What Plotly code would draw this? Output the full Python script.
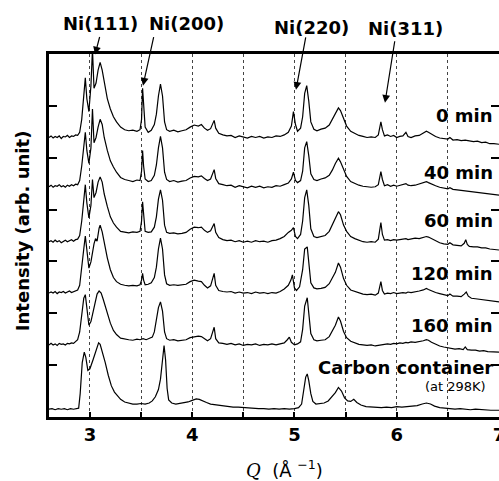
import plotly.graph_objects as go

# Q (1/Angstrom), intensity above each curve's own baseline (arb. unit)
min0 = [(2.60,0.00),(2.62,0.03),(2.64,-0.01),(2.66,0.02),(2.68,0.00),(2.70,0.03),(2.72,-0.02),(2.74,0.02),
        (2.76,0.01),(2.78,0.04),(2.80,0.00),(2.82,0.03),(2.84,0.02),(2.86,0.05),(2.88,0.04),(2.90,0.10),
        (2.92,0.35),(2.94,0.80),(2.955,1.15),(2.97,0.75),(2.99,0.50),(3.01,1.00),(3.025,1.70),(3.04,0.95),
        (3.06,1.05),(3.08,1.30),(3.10,1.45),(3.12,1.30),(3.14,1.05),(3.17,0.75),(3.20,0.55),(3.23,0.40),
        (3.26,0.30),(3.30,0.20),(3.34,0.15),(3.38,0.13),(3.42,0.14),(3.46,0.12),(3.49,0.15),(3.505,0.35),
        (3.515,0.95),(3.525,0.60),(3.54,0.20),(3.57,0.10),(3.60,0.14),(3.63,0.25),(3.65,0.45),(3.67,0.80),
        (3.69,1.03),(3.71,0.80),(3.73,0.30),(3.75,0.15),(3.78,0.12),(3.82,0.14),(3.86,0.11),(3.90,0.13),
        (3.94,0.15),(3.98,0.20),(4.02,0.24),(4.06,0.22),(4.09,0.25),(4.12,0.18),(4.15,0.14),(4.18,0.17),
        (4.20,0.28),(4.215,0.33),(4.23,0.18),(4.26,0.08),(4.30,0.05),(4.34,0.03),(4.38,0.04),(4.42,0.00),
        (4.46,0.03),(4.50,0.01),(4.54,-0.01),(4.58,0.02),(4.62,0.00),(4.66,0.02),(4.70,-0.01),(4.74,0.01),
        (4.78,0.00),(4.82,0.03),(4.86,0.02),(4.90,0.05),(4.94,0.10),(4.97,0.22),(4.99,0.50),(5.01,0.25),
        (5.03,0.12),(5.06,0.18),(5.08,0.40),(5.10,0.85),(5.12,1.00),(5.14,0.70),(5.16,0.30),(5.19,0.16),
        (5.22,0.13),(5.26,0.16),(5.30,0.18),(5.34,0.24),(5.37,0.35),(5.40,0.48),(5.43,0.57),(5.45,0.52),
        (5.48,0.35),(5.51,0.22),(5.55,0.12),(5.59,0.08),(5.63,0.04),(5.67,0.02),(5.71,0.00),(5.75,0.01),
        (5.79,0.00),(5.82,0.05),(5.845,0.30),(5.86,0.15),(5.88,0.03),(5.91,0.05),(5.94,0.02),(5.97,0.04),
        (6.00,0.00),(6.03,0.02),(6.06,0.03),(6.09,0.10),(6.11,0.02),(6.14,0.00),(6.18,0.03),(6.22,0.04),
        (6.26,0.08),(6.29,0.12),(6.31,0.10),(6.34,0.06),(6.38,0.02),(6.42,-0.01),(6.46,-0.02),(6.50,-0.03),
        (6.52,0.00),(6.55,-0.05),(6.59,-0.04),(6.63,-0.06),(6.67,-0.05),(6.71,-0.07),(6.75,-0.08),(6.79,-0.07),
        (6.83,-0.10),(6.87,-0.09),(6.91,-0.12),(6.95,-0.12),(7.00,-0.13)]

min40 = [(2.60,0.00),(2.62,0.03),(2.64,-0.01),(2.66,0.02),(2.68,0.01),(2.70,0.04),(2.72,0.00),(2.74,0.02),
         (2.76,-0.01),(2.78,0.03),(2.80,0.01),(2.82,0.04),(2.84,0.02),(2.86,0.05),(2.88,0.04),(2.90,0.12),
         (2.92,0.40),(2.94,0.80),(2.955,1.05),(2.97,0.70),(2.99,0.45),(3.01,0.75),(3.025,1.50),(3.04,0.85),
         (3.06,0.95),(3.08,1.15),(3.10,1.30),(3.12,1.20),(3.14,0.95),(3.17,0.70),(3.20,0.50),(3.23,0.38),
         (3.26,0.28),(3.30,0.18),(3.34,0.14),(3.38,0.12),(3.42,0.10),(3.46,0.13),(3.49,0.12),(3.505,0.30),
         (3.515,0.70),(3.525,0.40),(3.54,0.15),(3.57,0.10),(3.60,0.12),(3.63,0.22),(3.65,0.42),(3.67,0.75),
         (3.69,0.97),(3.71,0.75),(3.73,0.28),(3.75,0.14),(3.78,0.10),(3.82,0.12),(3.86,0.09),(3.90,0.11),
         (3.94,0.12),(3.98,0.17),(4.02,0.20),(4.06,0.19),(4.09,0.21),(4.12,0.16),(4.15,0.12),(4.18,0.15),
         (4.20,0.25),(4.215,0.33),(4.23,0.16),(4.26,0.06),(4.30,0.04),(4.34,0.02),(4.38,0.03),(4.42,-0.01),
         (4.46,0.02),(4.50,0.00),(4.54,-0.02),(4.58,0.01),(4.62,-0.01),(4.66,0.01),(4.70,-0.02),(4.74,0.00),
         (4.78,-0.01),(4.82,0.02),(4.86,0.01),(4.90,0.04),(4.94,0.07),(4.97,0.15),(4.99,0.28),(5.01,0.12),
         (5.03,0.08),(5.06,0.12),(5.08,0.30),(5.10,0.75),(5.12,0.87),(5.14,0.60),(5.16,0.25),(5.19,0.14),
         (5.22,0.12),(5.26,0.15),(5.30,0.17),(5.34,0.22),(5.37,0.32),(5.40,0.45),(5.43,0.55),(5.45,0.48),
         (5.48,0.32),(5.51,0.20),(5.55,0.10),(5.59,0.06),(5.63,0.03),(5.67,0.01),(5.71,0.00),(5.75,-0.01),
         (5.79,0.00),(5.82,0.04),(5.845,0.29),(5.86,0.14),(5.88,0.02),(5.91,0.04),(5.94,0.01),(5.97,0.03),
         (6.00,0.01),(6.03,0.03),(6.06,0.04),(6.09,0.06),(6.11,0.03),(6.14,0.02),(6.18,0.03),(6.22,0.05),
         (6.26,0.07),(6.29,0.10),(6.31,0.08),(6.34,0.05),(6.38,0.02),(6.42,-0.01),(6.46,-0.03),(6.50,-0.04),
         (6.52,-0.02),(6.55,-0.05),(6.59,-0.06),(6.63,-0.07),(6.67,-0.07),(6.71,-0.09),(6.75,-0.09),(6.79,-0.10),
         (6.83,-0.12),(6.87,-0.12),(6.91,-0.14),(6.95,-0.15),(7.00,-0.16)]

min60 = [(2.60,0.00),(2.62,0.02),(2.64,-0.01),(2.66,0.03),(2.68,0.00),(2.70,0.02),(2.72,-0.02),(2.74,0.01),
         (2.76,0.03),(2.78,0.00),(2.80,0.02),(2.82,0.04),(2.84,0.01),(2.86,0.04),(2.88,0.05),(2.90,0.12),
         (2.92,0.40),(2.94,0.85),(2.955,1.10),(2.97,0.75),(2.99,0.46),(3.01,0.70),(3.025,1.20),(3.04,0.85),
         (3.06,0.95),(3.08,1.15),(3.10,1.25),(3.12,1.15),(3.14,0.92),(3.17,0.68),(3.20,0.48),(3.23,0.36),
         (3.26,0.28),(3.30,0.20),(3.34,0.18),(3.38,0.17),(3.42,0.19),(3.46,0.18),(3.49,0.20),(3.505,0.40),
         (3.515,0.77),(3.525,0.45),(3.54,0.20),(3.57,0.18),(3.60,0.19),(3.63,0.28),(3.65,0.48),(3.67,0.82),
         (3.69,1.00),(3.71,0.80),(3.73,0.32),(3.75,0.18),(3.78,0.16),(3.82,0.17),(3.86,0.15),(3.90,0.16),
         (3.94,0.18),(3.98,0.24),(4.02,0.28),(4.06,0.27),(4.09,0.28),(4.12,0.22),(4.15,0.18),(4.18,0.21),
         (4.20,0.30),(4.215,0.35),(4.23,0.18),(4.26,0.08),(4.30,0.04),(4.34,0.02),(4.38,0.03),(4.42,0.00),
         (4.46,0.02),(4.50,-0.01),(4.54,0.01),(4.58,-0.01),(4.62,0.02),(4.66,0.00),(4.70,0.01),(4.74,-0.01),
         (4.78,0.02),(4.82,0.03),(4.86,0.06),(4.90,0.10),(4.94,0.18),(4.97,0.22),(4.99,0.27),(5.01,0.10),
         (5.03,0.06),(5.06,0.14),(5.08,0.40),(5.10,0.85),(5.12,1.00),(5.14,0.70),(5.16,0.25),(5.19,0.10),
         (5.22,0.08),(5.26,0.10),(5.30,0.12),(5.34,0.20),(5.37,0.32),(5.40,0.45),(5.43,0.58),(5.45,0.52),
         (5.48,0.32),(5.51,0.20),(5.55,0.10),(5.59,0.06),(5.63,0.03),(5.67,0.00),(5.71,-0.01),(5.75,0.00),
         (5.79,-0.01),(5.82,0.05),(5.845,0.37),(5.86,0.14),(5.88,0.03),(5.91,0.04),(5.94,0.02),(5.97,0.04),
         (6.00,0.03),(6.03,0.04),(6.06,0.05),(6.09,0.06),(6.11,0.04),(6.14,0.05),(6.18,0.07),(6.22,0.06),
         (6.26,0.08),(6.29,0.10),(6.31,0.09),(6.34,0.06),(6.38,0.01),(6.42,-0.02),(6.46,-0.04),(6.50,-0.05),
         (6.52,-0.02),(6.55,-0.06),(6.59,-0.07),(6.63,-0.08),(6.66,-0.03),(6.675,0.04),(6.69,-0.05),(6.71,-0.09),
         (6.75,-0.10),(6.79,-0.10),(6.83,-0.12),(6.87,-0.12),(6.91,-0.14),(6.95,-0.15),(7.00,-0.16)]

min120 = [(2.60,0.00),(2.62,0.02),(2.64,0.00),(2.66,0.03),(2.68,-0.01),(2.70,0.02),(2.72,0.01),(2.74,0.03),
          (2.76,0.00),(2.78,0.02),(2.80,0.04),(2.82,0.01),(2.84,0.03),(2.86,0.05),(2.88,0.06),(2.90,0.15),
          (2.92,0.45),(2.94,0.85),(2.955,1.10),(2.97,0.80),(2.99,0.48),(3.01,0.60),(3.025,0.80),(3.04,0.95),
          (3.055,1.05),(3.07,1.00),(3.09,1.25),(3.10,1.31),(3.12,1.18),(3.14,0.95),(3.17,0.68),(3.20,0.45),
          (3.23,0.30),(3.26,0.22),(3.30,0.17),(3.34,0.15),(3.38,0.14),(3.42,0.15),(3.46,0.14),(3.49,0.16),
          (3.505,0.25),(3.515,0.38),(3.525,0.25),(3.54,0.16),(3.57,0.17),(3.60,0.20),(3.63,0.30),(3.65,0.50),
          (3.67,0.85),(3.69,1.06),(3.71,0.85),(3.73,0.35),(3.75,0.18),(3.78,0.15),(3.82,0.16),(3.86,0.15),
          (3.90,0.16),(3.94,0.17),(3.98,0.22),(4.02,0.25),(4.06,0.23),(4.09,0.22),(4.12,0.15),(4.15,0.10),
          (4.18,0.14),(4.20,0.30),(4.215,0.38),(4.23,0.15),(4.26,0.05),(4.30,0.03),(4.34,0.02),(4.38,0.03),
          (4.42,0.00),(4.46,0.02),(4.50,0.00),(4.54,0.01),(4.58,-0.01),(4.62,0.02),(4.66,0.00),(4.70,0.01),
          (4.74,-0.01),(4.78,0.01),(4.82,0.00),(4.86,0.03),(4.90,0.08),(4.94,0.15),(4.965,0.25),(4.98,0.35),
          (5.00,0.10),(5.02,0.05),(5.05,0.12),(5.08,0.45),(5.10,0.85),(5.125,0.89),(5.14,0.60),(5.16,0.20),
          (5.19,0.10),(5.22,0.08),(5.26,0.09),(5.30,0.11),(5.34,0.18),(5.37,0.28),(5.40,0.40),(5.43,0.58),
          (5.45,0.50),(5.48,0.28),(5.51,0.15),(5.55,0.06),(5.59,0.03),(5.63,0.00),(5.67,-0.02),(5.71,-0.03),
          (5.75,-0.02),(5.79,-0.04),(5.82,0.00),(5.845,0.22),(5.86,0.05),(5.88,-0.02),(5.91,0.00),(5.94,-0.01),
          (5.97,0.01),(6.00,-0.01),(6.03,0.00),(6.06,0.01),(6.09,0.00),(6.11,0.02),(6.14,0.01),(6.18,0.02),
          (6.22,0.04),(6.26,0.06),(6.29,0.09),(6.31,0.07),(6.34,0.04),(6.38,0.01),(6.42,-0.01),(6.46,-0.03),
          (6.50,-0.05),(6.52,-0.02),(6.55,-0.06),(6.59,-0.06),(6.63,-0.07),(6.66,-0.02),(6.68,0.02),(6.70,-0.06),
          (6.73,-0.10),(6.77,-0.11),(6.81,-0.12),(6.85,-0.14),(6.89,-0.15),(6.93,-0.15),(6.97,-0.17),(7.00,-0.17)]

min160 = [(2.60,0.00),(2.62,0.03),(2.64,0.00),(2.66,0.02),(2.68,-0.01),(2.70,0.03),(2.72,0.01),(2.74,0.02),
          (2.76,0.00),(2.78,0.03),(2.80,0.02),(2.82,0.04),(2.84,0.03),(2.86,0.06),(2.88,0.10),(2.90,0.25),
          (2.92,0.60),(2.94,0.90),(2.955,0.97),(2.97,0.75),(2.99,0.38),(3.01,0.45),(3.03,0.65),(3.05,0.85),
          (3.07,0.98),(3.09,1.04),(3.11,1.00),(3.13,0.88),(3.15,0.74),(3.17,0.58),(3.20,0.42),(3.23,0.28),
          (3.26,0.20),(3.30,0.13),(3.34,0.11),(3.38,0.10),(3.42,0.09),(3.46,0.11),(3.49,0.10),(3.52,0.12),
          (3.55,0.10),(3.58,0.12),(3.61,0.15),(3.63,0.25),(3.65,0.45),(3.67,0.72),(3.69,0.83),(3.71,0.65),
          (3.73,0.25),(3.75,0.12),(3.78,0.09),(3.82,0.10),(3.86,0.08),(3.90,0.09),(3.94,0.10),(3.98,0.14),
          (4.02,0.16),(4.06,0.17),(4.09,0.16),(4.12,0.12),(4.15,0.08),(4.18,0.12),(4.20,0.24),(4.215,0.34),
          (4.23,0.12),(4.26,0.04),(4.30,0.03),(4.34,0.01),(4.38,0.03),(4.42,0.00),(4.46,0.02),(4.50,-0.01),
          (4.54,0.01),(4.58,0.00),(4.62,0.02),(4.66,-0.01),(4.70,0.01),(4.74,0.00),(4.78,0.02),(4.82,0.00),
          (4.86,0.02),(4.90,0.04),(4.93,0.10),(4.95,0.15),(4.97,0.05),(5.00,0.00),(5.03,0.02),(5.06,0.06),
          (5.08,0.30),(5.10,0.75),(5.125,0.91),(5.14,0.65),(5.16,0.22),(5.19,0.10),(5.22,0.08),(5.26,0.09),
          (5.30,0.10),(5.34,0.16),(5.37,0.26),(5.40,0.38),(5.43,0.54),(5.45,0.46),(5.48,0.26),(5.51,0.14),
          (5.55,0.07),(5.59,0.04),(5.63,0.01),(5.67,0.00),(5.71,-0.01),(5.75,0.00),(5.79,-0.02),(5.82,-0.01),
          (5.85,0.00),(5.88,0.01),(5.91,0.02),(5.94,0.01),(5.97,0.03),(6.00,0.02),(6.03,0.04),(6.06,0.03),
          (6.09,0.05),(6.11,0.04),(6.14,0.06),(6.18,0.05),(6.22,0.06),(6.26,0.08),(6.29,0.10),(6.31,0.09),
          (6.34,0.05),(6.38,0.01),(6.42,-0.02),(6.46,-0.04),(6.50,-0.05),(6.53,-0.06),(6.57,-0.08),(6.61,-0.07),
          (6.65,-0.09),(6.67,-0.04),(6.69,-0.09),(6.73,-0.10),(6.77,-0.10),(6.81,-0.12),(6.85,-0.11),(6.89,-0.13),
          (6.93,-0.13),(6.97,-0.14),(7.00,-0.14)]

carbon = [(2.60,0.00),(2.63,0.01),(2.66,-0.01),(2.69,0.01),(2.72,0.00),(2.75,0.01),(2.78,-0.01),(2.81,0.01),
          (2.84,0.00),(2.87,0.01),(2.89,0.02),(2.905,0.30),(2.915,0.55),(2.925,0.90),(2.945,1.10),(2.96,1.00),
          (2.98,0.75),(3.00,0.78),(3.03,0.95),(3.06,1.12),(3.085,1.28),(3.10,1.25),(3.12,1.12),(3.15,0.90),
          (3.18,0.65),(3.21,0.45),(3.24,0.33),(3.27,0.25),(3.30,0.19),(3.34,0.14),(3.38,0.12),(3.42,0.10),
          (3.46,0.10),(3.50,0.11),(3.54,0.10),(3.58,0.12),(3.61,0.16),(3.64,0.24),(3.67,0.38),(3.69,0.58),
          (3.71,0.95),(3.725,1.23),(3.74,0.95),(3.755,0.40),(3.77,0.18),(3.80,0.12),(3.84,0.10),(3.88,0.11),
          (3.92,0.12),(3.96,0.14),(4.00,0.17),(4.04,0.20),(4.07,0.19),(4.10,0.17),(4.14,0.13),(4.18,0.10),
          (4.22,0.09),(4.26,0.07),(4.30,0.06),(4.35,0.05),(4.40,0.04),(4.45,0.04),(4.50,0.03),(4.55,0.02),
          (4.60,0.02),(4.65,0.01),(4.70,0.01),(4.75,0.00),(4.80,0.01),(4.85,0.00),(4.90,0.01),(4.95,0.00),
          (5.00,0.01),(5.04,0.03),(5.07,0.10),(5.09,0.35),(5.11,0.62),(5.125,0.68),(5.14,0.55),(5.16,0.30),
          (5.18,0.15),(5.21,0.10),(5.25,0.11),(5.29,0.12),(5.33,0.16),(5.37,0.24),(5.40,0.32),(5.43,0.42),
          (5.46,0.35),(5.49,0.22),(5.52,0.16),(5.55,0.15),(5.58,0.19),(5.61,0.13),(5.65,0.08),(5.70,0.05),
          (5.75,0.04),(5.80,0.03),(5.85,0.03),(5.90,0.04),(5.95,0.03),(6.00,0.05),(6.05,0.04),(6.10,0.05),
          (6.15,0.06),(6.20,0.07),(6.25,0.10),(6.29,0.12),(6.33,0.10),(6.37,0.06),(6.42,0.03),(6.47,0.02),
          (6.52,0.01),(6.57,0.00),(6.62,0.01),(6.67,0.00),(6.72,-0.01),(6.77,0.00),(6.82,-0.01),(6.87,-0.01),
          (6.92,-0.02),(6.97,-0.02),(7.00,-0.02)]

series = [min0, min40, min60, min120, min160, carbon]
offsets = [5.39, 4.44, 3.38, 2.39, 1.39, 0.15]
curve_labels = ["0 min", "40 min", "60 min", "120 min", "160 min", "Carbon container"]
label_y = [5.81, 4.71, 3.78, 2.76, 1.757, 0.946]

peak_names = ["Ni(111)", "Ni(200)", "Ni(220)", "Ni(311)"]
peak_q = [3.05, 3.519, 5.015, 5.885]
peak_tip_y = [6.99, 6.39, 6.31, 6.06]
peak_text_q = [3.108, 3.94, 5.162, 6.081]
peak_text_ypaper = [1.083, 1.083, 1.074, 1.069]
arrow_start = [(5, -19), (11, -50), (10, -54), (10, -63)]

x_tickvals = [3, 3.5, 4, 4.5, 5, 5.5, 6, 6.5, 7]
x_ticktext = ["3", "", "4", "", "5", "", "6", "", "7"]
y_tickvals = [1, 2, 3, 4, 5, 6]

BOLD = dict(family="DejaVu Sans", size=18, color="black", weight="bold")

fig = go.Figure()
for pts, off in zip(series, offsets):
    fig.add_trace(go.Scatter(
        x=[p[0] for p in pts], y=[p[1] + off for p in pts],
        mode="lines", line=dict(color="black", width=1.2), showlegend=False,
        hoverinfo="skip"))

# invisible trace on right axis so right-side inner ticks are drawn
fig.add_trace(go.Scatter(x=[2.6], y=[0], yaxis="y2", mode="markers",
                         marker=dict(opacity=0), showlegend=False, hoverinfo="skip"))

annotations = []
for name, q, ty, tq, typ, (ax, ay) in zip(peak_names, peak_q, peak_tip_y, peak_text_q,
                                          peak_text_ypaper, arrow_start):
    annotations.append(dict(x=tq, y=typ, xref="x", yref="paper", text=name, showarrow=False,
                            font=BOLD, xanchor="center", yanchor="middle"))
    annotations.append(dict(x=q, y=ty, xref="x", yref="y", text="", showarrow=True,
                            ax=ax, ay=ay, axref="pixel", ayref="pixel",
                            arrowhead=2, arrowsize=1.3, arrowwidth=1.2, arrowcolor="black"))

for lab, ly in zip(curve_labels, label_y):
    annotations.append(dict(x=6.965, y=ly, xref="x", yref="y", text=lab, showarrow=False,
                            font=BOLD, xanchor="right", yanchor="middle"))
annotations.append(dict(x=6.895, y=0.58, xref="x", yref="y", text="(at 298K)", showarrow=False,
                        font=dict(family="DejaVu Sans", size=13, color="black"),
                        xanchor="right", yanchor="middle"))

annotations.append(dict(x=0, y=0.512, xref="paper", yref="paper", xshift=-27,
                        text="Intensity (arb. unit)", textangle=-90, showarrow=False,
                        font=BOLD, xanchor="center", yanchor="middle"))
annotations.append(dict(x=0.524, y=0, xref="paper", yref="paper", yshift=-52,
                        text="<span style=\"font-family:'DejaVu Serif'\"><i>Q</i></span>  (Å <sup>−1</sup>)",
                        showarrow=False,
                        font=dict(family="DejaVu Sans", size=18, color="black"),
                        xanchor="center", yanchor="middle"))

fig.update_layout(
    template="none",
    width=499, height=481, autosize=False,
    margin=dict(l=49, r=0, t=54, b=64, pad=0, autoexpand=False),
    paper_bgcolor="white", plot_bgcolor="white",
    showlegend=False,
    xaxis=dict(range=[2.6, 7.0], tickvals=x_tickvals, ticktext=x_ticktext, automargin=False,
               ticks="inside", ticklen=5, tickwidth=1.5, tickcolor="black",
               showline=True, linewidth=2.5, linecolor="black", mirror=True,
               showgrid=True, gridcolor="#444", gridwidth=1, griddash="dot",
               zeroline=False, tickfont=BOLD, ticklabeloverflow="allow"),
    yaxis=dict(range=[0, 7.0], tickvals=y_tickvals, ticks="inside", ticklen=8, automargin=False,
               tickwidth=1.5, tickcolor="black", showticklabels=False,
               showline=True, linewidth=2.5, linecolor="black",
               showgrid=False, zeroline=False),
    yaxis2=dict(range=[0, 7.0], tickvals=y_tickvals, ticks="inside", ticklen=8, automargin=False,
                tickwidth=1.5, tickcolor="black", showticklabels=False,
                overlaying="y", side="right", showline=False,
                showgrid=False, zeroline=False),
    annotations=annotations,
)

fig.write_html("out.html",
               config={"responsive": False, "displayModeBar": False},
               post_script="document.body.style.margin='0px';"
                           "document.documentElement.style.overflow='hidden';"
                           "document.body.style.overflow='hidden';"
                           "document.querySelectorAll('.plotly-graph-div, .svg-container').forEach("
                           "function(e){e.style.overflow='hidden';});")
